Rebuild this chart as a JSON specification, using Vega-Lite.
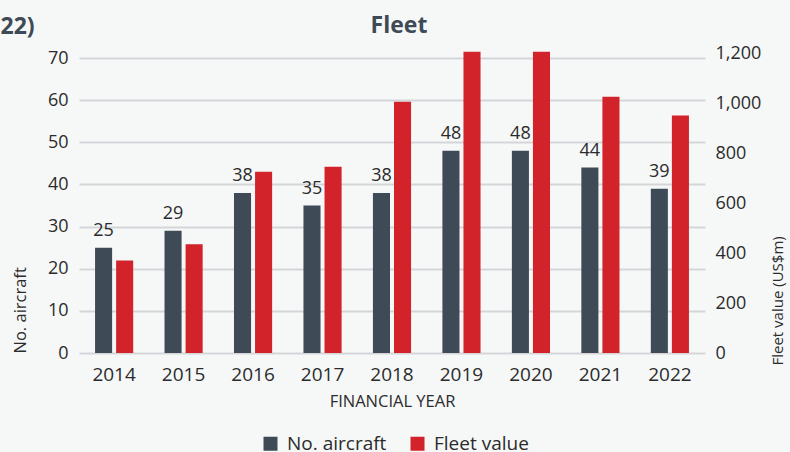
{
  "$schema": "https://vega.github.io/schema/vega-lite/v6.json",
  "width": 626,
  "height": 300,
  "autosize": {"type": "none"},
  "padding": {"left": 79, "top": 53, "right": 85, "bottom": 99},
  "background": "#f6f8f8",
  "config": {
    "font": "Open Sans",
    "view": {"stroke": null},
    "axis": {"labelColor": "#2b2b2b", "titleColor": "#2b2b2b", "titleFontWeight": "normal", "labelFont": "Open Sans", "titleFont": "Open Sans"},
    "text": {"font": "Open Sans"}
  },
  "title": {"text": "Fleet", "fontSize": 23, "font": "Open Sans", "fontWeight": "bold", "color": "#3e4a55", "anchor": "middle", "dx": 7, "offset": -23},
  "data": {
    "values": [
      {"year": "2014", "aircraft": 25, "value": 370},
      {"year": "2015", "aircraft": 29, "value": 435},
      {"year": "2016", "aircraft": 38, "value": 725},
      {"year": "2017", "aircraft": 35, "value": 745},
      {"year": "2018", "aircraft": 38, "value": 1005},
      {"year": "2019", "aircraft": 48, "value": 1205},
      {"year": "2020", "aircraft": 48, "value": 1205},
      {"year": "2021", "aircraft": 44, "value": 1025},
      {"year": "2022", "aircraft": 39, "value": 950}
    ]
  },
  "layer": [
    {
      "encoding": {
        "x": {
          "field": "year", "type": "ordinal",
          "scale": {"paddingInner": 0.451, "paddingOuter": 0.231},
          "axis": {"orient": "bottom", "domain": false, "ticks": false, "labelAngle": 0, "labelPadding": 12, "labelFontSize": 19, "title": "FINANCIAL YEAR", "titleFontSize": 16.5, "titlePadding": 9}
        },
        "xOffset": {"datum": "No. aircraft", "scale": {"domain": ["No. aircraft", "Fleet value"], "paddingInner": 0.19, "paddingOuter": 0}},
        "y": {
          "field": "aircraft", "type": "quantitative",
          "scale": {"domain": [0, 71.2], "nice": false},
          "axis": {"values": [0, 10, 20, 30, 40, 50, 60, 70], "domain": false, "ticks": false, "labelPadding": 11, "labelFontSize": 18, "gridColor": "#d5d5d9", "gridWidth": 2, "title": "No. aircraft", "titleAnchor": "start", "titleFontSize": 16.5, "titlePadding": 19}
        }
      },
      "layer": [
        {
          "mark": {"type": "bar"},
          "encoding": {
            "color": {
              "datum": "No. aircraft",
              "scale": {"domain": ["No. aircraft", "Fleet value"], "range": ["#3e4b57", "#d2222a"]},
              "legend": {"orient": "none", "legendX": 182, "legendY": 381, "direction": "horizontal", "title": null, "symbolType": "square", "symbolSize": 196, "symbolStrokeWidth": 0, "labelFontSize": 19, "labelColor": "#2b2b2b", "columnPadding": 21, "labelOffset": 7}
            }
          }
        },
        {
          "mark": {"type": "text", "baseline": "alphabetic", "dy": -12, "fontSize": 18, "color": "#2b2b2b"},
          "encoding": {"text": {"field": "aircraft"}}
        }
      ]
    },
    {
      "mark": {"type": "bar"},
      "encoding": {
        "x": {
          "field": "year", "type": "ordinal",
          "axis": {"orient": "top", "labels": false, "domain": false, "ticks": false, "grid": false, "title": "22)", "titleFontSize": 23, "titleFontWeight": "bold", "titleColor": "#3e4a55", "titleAlign": "left", "titleAnchor": "start", "titleBaseline": "alphabetic", "titleX": -79, "titleY": -20}
        },
        "xOffset": {"datum": "Fleet value"},
        "y": {
          "field": "value", "type": "quantitative",
          "scale": {"domain": [0, 1200], "nice": false},
          "axis": {"orient": "right", "values": [0, 200, 400, 600, 800, 1000, 1200], "format": ",.0f", "grid": false, "domain": false, "ticks": false, "labelPadding": 10, "labelFontSize": 18, "title": "Fleet value (US$m)", "titleAngle": 270, "titleAnchor": "start", "titleY": 312, "titleFontSize": 15, "titlePadding": 25}
        },
        "color": {"datum": "Fleet value"}
      }
    }
  ],
  "resolve": {"scale": {"y": "independent"}, "axis": {"x": "independent"}}
}
